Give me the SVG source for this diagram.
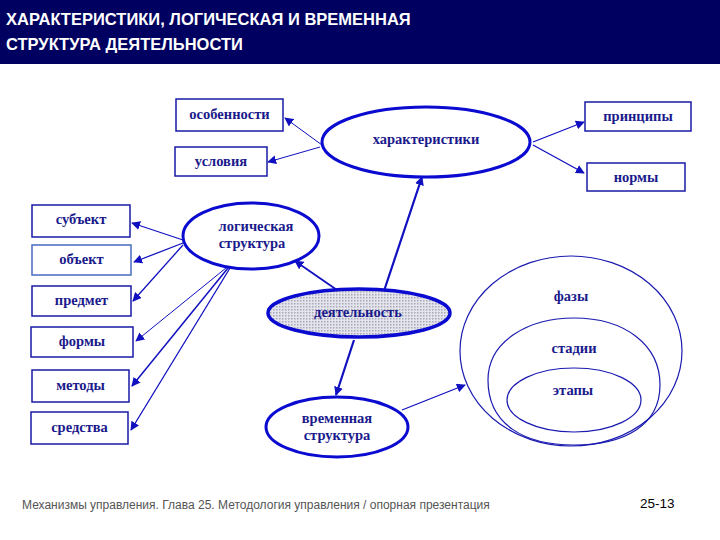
<svg xmlns="http://www.w3.org/2000/svg" width="720" height="540" viewBox="0 0 720 540">
<style>
.box{fill:#fff;stroke:#1a1aa8;stroke-width:1.5}
.ell{fill:#fff;stroke:#0a0ad0;stroke-width:3}
.thin{fill:none;stroke:#1a1ab0;stroke-width:1.2}
.t{font-family:"Liberation Serif",serif;font-weight:bold;font-size:14.5px;fill:#1a1a8c;text-anchor:middle}
.c{stroke:#1010c0;fill:none}
</style>
<defs>
<marker id="a" viewBox="0 0 10 10" refX="9" refY="5" markerWidth="9" markerHeight="9" markerUnits="userSpaceOnUse" orient="auto"><path d="M0,0L10,5L0,10z" fill="#1010c0"/></marker>
<pattern id="p" width="3" height="3" patternUnits="userSpaceOnUse"><rect width="3" height="3" fill="#e4e4ec"/><rect width="1.5" height="1.5" fill="#a8a8b8"/></pattern>
</defs>
<rect x="0" y="0" width="720" height="64" fill="#000060"/>
<text x="6" y="25" font-family="Liberation Sans,sans-serif" font-weight="bold" font-size="16.5" fill="#fff">ХАРАКТЕРИСТИКИ, ЛОГИЧЕСКАЯ И ВРЕМЕННАЯ</text>
<text x="6" y="50" font-family="Liberation Sans,sans-serif" font-weight="bold" font-size="16.5" fill="#fff">СТРУКТУРА ДЕЯТЕЛЬНОСТИ</text>
<g id="connectors">
<line class="c" stroke-width="1" x1="322" y1="145" x2="285" y2="118" marker-end="url(#a)"/>
<line class="c" stroke-width="1" x1="320" y1="147" x2="268" y2="162" marker-end="url(#a)"/>
<line class="c" stroke-width="1.3" x1="533" y1="142" x2="584" y2="122" marker-end="url(#a)"/>
<line class="c" stroke-width="1.3" x1="533" y1="145" x2="584" y2="173" marker-end="url(#a)"/>
<line class="c" stroke-width="2.2" x1="384" y1="291" x2="422" y2="177" marker-end="url(#a)"/>
<line class="c" stroke-width="1.8" x1="337" y1="290" x2="295" y2="261" marker-end="url(#a)"/>
<line class="c" stroke-width="2.2" x1="354" y1="340" x2="336" y2="395" marker-end="url(#a)"/>
<line class="c" stroke-width="1.3" x1="402" y1="410" x2="465" y2="385" marker-end="url(#a)"/>
<line class="c" stroke-width="1.3" x1="183" y1="240" x2="132" y2="223" marker-end="url(#a)"/>
<line class="c" stroke-width="1.3" x1="183" y1="243" x2="134" y2="262" marker-end="url(#a)"/>
<line class="c" stroke-width="1.3" x1="183" y1="245" x2="133" y2="301" marker-end="url(#a)"/>
<line class="c" stroke-width="1" x1="226" y1="268" x2="136" y2="341" marker-end="url(#a)"/>
<line class="c" stroke-width="1.5" x1="228" y1="268" x2="132" y2="386" marker-end="url(#a)"/>
<line class="c" stroke-width="1.3" x1="230" y1="268" x2="131" y2="430" marker-end="url(#a)"/>
</g>
<g id="osobennosti"><rect class="box" x="176" y="99" width="107" height="32"/><text class="t" x="229.5" y="119">особенности</text></g>
<g id="usloviya"><rect class="box" x="175" y="147" width="92" height="29"/><text class="t" x="221" y="166">условия</text></g>
<g id="subekt"><rect class="box" x="32" y="205" width="98" height="32"/><text class="t" x="81" y="224">субъект</text></g>
<g id="obekt"><rect class="box" x="32" y="245" width="99" height="30" style="stroke:#4a6ac0"/><text class="t" x="81.5" y="264">объект</text></g>
<g id="predmet"><rect class="box" x="32" y="286" width="99" height="30"/><text class="t" x="81.5" y="305">предмет</text></g>
<g id="formy"><rect class="box" x="31" y="327" width="102" height="30"/><text class="t" x="82" y="346">формы</text></g>
<g id="metody"><rect class="box" x="32" y="370" width="97" height="32"/><text class="t" x="80.5" y="390">методы</text></g>
<g id="sredstva"><rect class="box" x="31" y="412" width="97" height="32"/><text class="t" x="79.5" y="432">средства</text></g>
<g id="principy"><rect class="box" x="585" y="102" width="106" height="29"/><text class="t" x="638" y="121">принципы</text></g>
<g id="normy"><rect class="box" x="587" y="163" width="98" height="28"/><text class="t" x="636" y="182">нормы</text></g>
<g id="harakteristiki"><ellipse class="ell" cx="426" cy="142" rx="104" ry="35"/><text class="t" x="426" y="144" font-size="17.5">характеристики</text></g>
<g id="logicheskaya"><ellipse class="ell" cx="251" cy="236" rx="68" ry="33"/><text class="t" x="256" y="231">логическая</text><text class="t" x="252" y="248">структура</text></g>
<g id="deyatelnost"><ellipse cx="359" cy="313" rx="91" ry="24" fill="url(#p)" stroke="#0a0ad0" stroke-width="3.5"/><text class="t" x="358" y="317" font-size="17.5">деятельность</text></g>
<g id="vremennaya"><ellipse class="ell" cx="337" cy="427" rx="71" ry="30"/><text class="t" x="337" y="423">временная</text><text class="t" x="337" y="440">структура</text></g>
<g id="fazy"><ellipse class="thin" cx="571" cy="351" rx="111" ry="95"/><text class="t" x="571" y="301">фазы</text></g>
<g id="stadii"><path class="thin" d="M488,380 C488,340 530,318 574,318 C625,318 660,345 660,385 C660,425 625,445 574,445 C525,445 488,425 488,380Z"/><text class="t" x="574" y="353">стадии</text></g>
<g id="etapy"><ellipse class="thin" cx="574" cy="400" rx="67" ry="32"/><text class="t" x="573" y="395">этапы</text></g>
<text x="22" y="509" font-family="Liberation Sans,sans-serif" font-size="12" fill="#555">Механизмы управления. Глава 25. Методология управления / опорная презентация</text>
<text x="640" y="508" font-family="Liberation Sans,sans-serif" font-size="13.5" fill="#000">25-13</text>
</svg>
